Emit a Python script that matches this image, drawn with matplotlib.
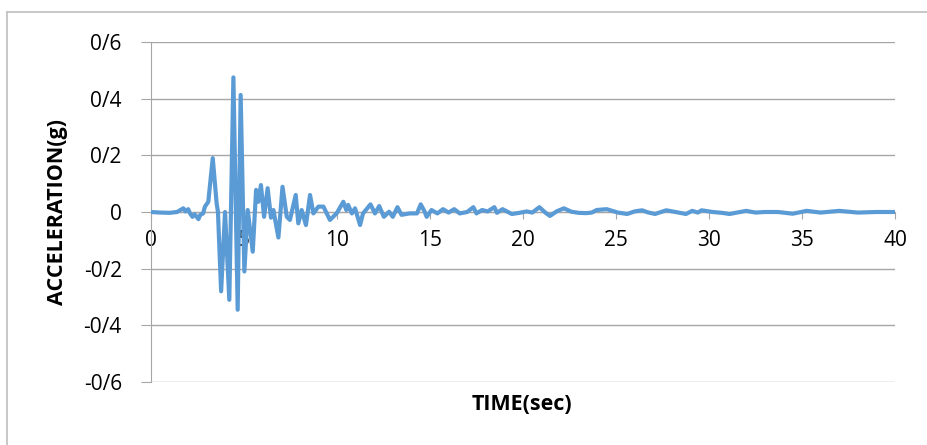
import matplotlib.pyplot as plt
from matplotlib.lines import Line2D

# time (sec) and acceleration (g) samples of the record
time = [0.0, 0.5, 1.0, 1.4, 1.74, 1.85, 2.0, 2.1, 2.23, 2.35, 2.55, 2.65, 2.8, 2.9, 3.08,
        3.32, 3.53, 3.6, 3.77, 3.98, 4.21, 4.43, 4.66, 4.82, 5.02, 5.2, 5.47, 5.65, 5.77,
        5.91, 6.08, 6.27, 6.45, 6.58, 6.85, 7.07, 7.3, 7.47, 7.78, 7.92, 8.1, 8.33, 8.55,
        8.73, 9.0, 9.27, 9.62, 9.98, 10.34, 10.5, 10.6, 10.8, 10.97, 11.24, 11.4, 11.8,
        12.04, 12.27, 12.52, 12.8, 13.0, 13.25, 13.47, 13.9, 14.3, 14.5, 14.7, 14.82,
        15.08, 15.4, 15.7, 16.0, 16.3, 16.6, 17.0, 17.33, 17.5, 17.8, 18.1, 18.46, 18.6,
        18.9, 19.4, 19.8, 20.2, 20.5, 20.88, 21.2, 21.45, 21.8, 22.2, 22.6, 23.0, 23.4,
        23.7, 23.96, 24.5, 24.7, 25.1, 25.6, 26.0, 26.4, 26.7, 27.1, 27.7, 28.2, 28.76,
        29.1, 29.4, 29.6, 30.2, 30.7, 31.1, 32.0, 32.5, 33.0, 33.7, 34.5, 35.25, 36.0,
        37.0, 38.0, 39.0, 40.0]
accel = [0.0, -0.002, -0.003, 0.0, 0.013, 0.002, 0.01, -0.005, -0.017, -0.008, -0.025, -0.01,
         -0.005, 0.019, 0.036,
         0.19, 0.03, 0.0, -0.28, 0.0, -0.31, 0.475, -0.345, 0.413, -0.21, 0.007, -0.14, 0.078, 0.036,
         0.095, -0.017, 0.084, -0.02, 0.007, -0.09, 0.089, -0.017, -0.028, 0.06, -0.04, 0.007,
         -0.046, 0.06, -0.005, 0.019, 0.019, -0.028, -0.005, 0.036, 0.007, 0.025, -0.005, 0.013,
         -0.046, -0.005, 0.027, -0.005, 0.021, -0.017, 0.001, -0.017, 0.017, -0.01, -0.005,
         -0.005, 0.027, 0.003, -0.017, 0.007, -0.005, 0.01, -0.002, 0.01, -0.005, 0.0, 0.017,
         -0.005, 0.007, 0.002, 0.017, -0.003, 0.01, -0.007, -0.003, 0.002, -0.002, 0.017,
         -0.002, -0.014, 0.002, 0.013, 0.001, -0.003, -0.004, -0.002, 0.007, 0.01, 0.006,
         -0.002, -0.007, 0.002, 0.006, -0.001, -0.007, 0.006, 0.0, -0.007, 0.004, -0.002,
         0.006, 0.0, -0.003, -0.007, 0.004, -0.002, 0.0, 0.0, -0.006, 0.004, -0.002, 0.004,
         -0.002, 0.0, 0.0]

yticks = [-0.6, -0.4, -0.2, 0.0, 0.2, 0.4, 0.6]
ylabels = ['-0/6', '-0/4', '-0/2', '0', '0/2', '0/4', '0/6']
xticks = [0, 5, 10, 15, 20, 25, 30, 35, 40]

plt.rcParams['font.family'] = ['Open Sans', 'DejaVu Sans']

fig = plt.figure(figsize=(9.27, 4.45), dpi=100)
ax = fig.add_axes([151 / 927, 63 / 445, 744 / 927, 340 / 445])

grid_col = '#a6a6a6'
for y in yticks:
    ax.axhline(y, color=grid_col, lw=1.0, zorder=1)

ax.plot(time, accel, color='#5b9bd5', lw=3.0, zorder=3,
        solid_joinstyle='round', solid_capstyle='round')

ax.set_xlim(0, 40)
ax.set_ylim(-0.6, 0.6)
ax.set_yticks(yticks)
ax.set_yticklabels(ylabels)
ax.set_xticks(xticks)
ax.set_xticklabels([str(x) for x in xticks])

for s in ['top', 'right']:
    ax.spines[s].set_visible(False)
ax.spines['left'].set_color(grid_col)
ax.spines['bottom'].set_color(grid_col)
ax.spines['bottom'].set_position(('data', 0))
ax.tick_params(axis='y', length=7, color=grid_col, pad=14, labelsize=15)
ax.tick_params(axis='x', length=5, color=grid_col, pad=8, labelsize=15)

ax.set_ylabel('ACCELERATION(g)', fontsize=15.5, fontweight='bold')
ax.yaxis.set_label_coords(-0.112, 0.5)
fig.text(522 / 927, 1 - 405 / 445, 'TIME(sec)', fontsize=15.5, fontweight='bold',
         ha='center', va='center')

# chart frame
fig.add_artist(Line2D([7 / 927, 7 / 927], [0, 1 - 12 / 445], color='#bfbfbf', lw=1.2))
fig.add_artist(Line2D([7 / 927, 1], [1 - 12 / 445, 1 - 12 / 445], color='#bfbfbf', lw=1.2))

fig.savefig('out.png', dpi=100)
